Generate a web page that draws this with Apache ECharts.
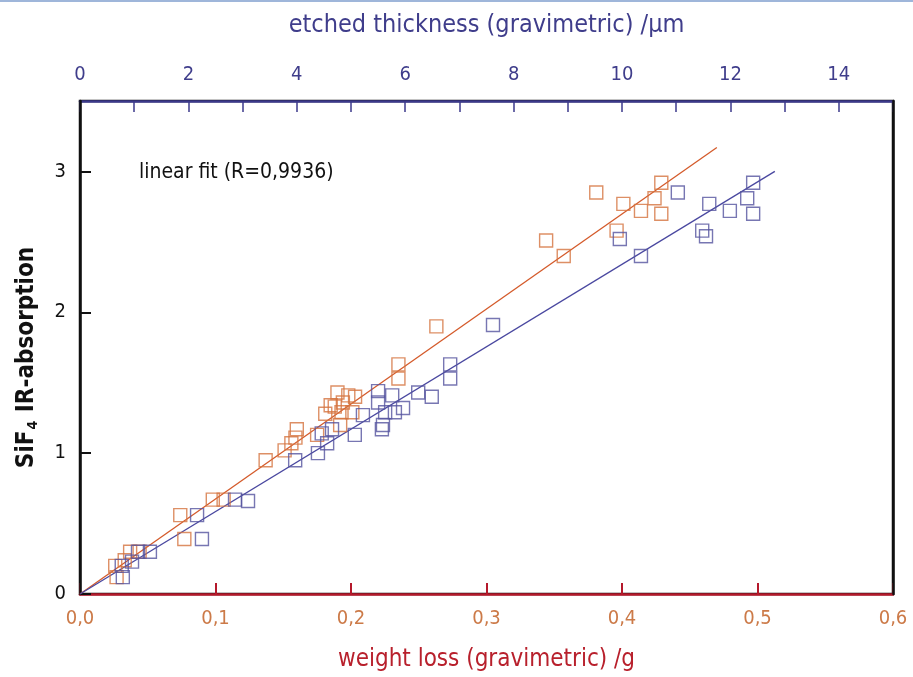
<!DOCTYPE html>
<html>
<head>
<meta charset="utf-8">
<title>SiF4 IR-absorption vs weight loss</title>
<script src="https://cdn.jsdelivr.net/npm/echarts@6/dist/echarts.min.js"></script>
<style>
    html, body { margin: 0; padding: 0; background: #fff; }
    #chart { width: 913px; height: 677px; }
</style>
</head>
<body>
<div id="chart"></div>
<script>
// weight loss (g) against SiF4 absorption - orange squares, bottom axis
var weightLoss = [0.026, 0.027, 0.033, 0.037, 0.044, 0.074, 0.077, 0.098, 0.106,
    0.137, 0.151, 0.156, 0.160, 0.159, 0.175, 0.181, 0.185, 0.190, 0.194, 0.198,
    0.203, 0.193, 0.201, 0.192, 0.188, 0.235, 0.235, 0.263, 0.344, 0.357, 0.381,
    0.396, 0.401, 0.414, 0.424, 0.429, 0.429];
var absorptionW = [0.20, 0.12, 0.24, 0.30, 0.30, 0.56, 0.39, 0.67, 0.67,
    0.95, 1.02, 1.07, 1.17, 1.11, 1.13, 1.28, 1.34, 1.43, 1.36, 1.41,
    1.40, 1.29, 1.29, 1.20, 1.33, 1.63, 1.53, 1.90, 2.51, 2.40, 2.85,
    2.58, 2.77, 2.72, 2.81, 2.92, 2.70];

// etched thickness (um) against SiF4 absorption - blue squares, top axis
var thickness = [0.77, 0.79, 0.96, 1.07, 1.29, 2.16, 2.25, 2.86, 3.10,
    3.97, 4.39, 4.56, 4.65, 4.46, 5.07, 5.22, 5.50, 5.50, 5.57, 5.63, 5.81,
    5.76, 5.96, 6.24, 6.49, 5.59, 6.83, 6.83, 7.62, 9.96, 10.35, 11.03,
    11.48, 11.55, 11.61, 11.99, 12.31, 12.42, 12.42];
var absorptionT = [0.20, 0.12, 0.23, 0.30, 0.30, 0.56, 0.39, 0.67, 0.66,
    0.95, 1.00, 1.07, 1.17, 1.14, 1.13, 1.27, 1.44, 1.36, 1.17, 1.29, 1.29,
    1.41, 1.32, 1.43, 1.40, 1.20, 1.63, 1.53, 1.91, 2.52, 2.40, 2.85,
    2.58, 2.54, 2.77, 2.72, 2.81, 2.92, 2.70];

// linear fits through the origin
var fitWeightX = [0, 0.47];
var fitWeightY = [0, 3.17];
var fitThickX = [0, 12.82];
var fitThickY = [0, 3.0];

var fontName = '"Liberation Sans Narrow", "DejaVu Sans Condensed", "Roboto", sans-serif';

var pairs = function (xs, ys) {
    var out = [];
    for (var i = 0; i < xs.length; i++) {
        out.push([xs[i], ys[i]]);
    }
    return out;
};

var myChart = echarts.init(document.getElementById('chart'));

var option = {
    backgroundColor: '#fff',
    animation: false,
    textStyle: { fontFamily: fontName },
    grid: {
        left: 80,
        right: 20,
        top: 101,
        bottom: 83,
        show: true,
        borderColor: '#111',
        borderWidth: 2.5,
        containLabel: false,
        outerBoundsMode: 'none'
    },
    graphic: [
        {
            type: 'rect',
            shape: { x: 0, y: 0, width: 913, height: 2 },
            style: { fill: '#9fb6da' }
        },
        {
            type: 'text',
            left: 139,
            top: 162,
            style: {
                text: 'linear fit (R=0,9936)',
                font: '21px ' + fontName,
                fill: '#111'
            }
        }
    ],
    xAxis: [
        {
            type: 'value',
            position: 'bottom',
            min: 0,
            max: 0.6,
            interval: 0.1,
            name: 'weight loss (gravimetric) /g',
            nameLocation: 'middle',
            nameGap: 54,
            nameMoveOverlap: false,
            nameTextStyle: { color: '#b8202c', fontSize: 24, fontFamily: fontName },
            axisLine: { onZero: false, lineStyle: { color: '#b5192b', width: 2.5 } },
            axisTick: { inside: true, length: 11, lineStyle: { color: '#b5192b', width: 2 } },
            axisLabel: {
                color: '#cc7a48',
                fontSize: 20,
                margin: 15,
                fontFamily: fontName,
                formatter: function (v) { return v.toFixed(1).replace('.', ','); }
            },
            splitLine: { show: false }
        },
        {
            type: 'value',
            position: 'top',
            min: 0,
            max: 15,
            interval: 1,
            name: 'etched thickness (gravimetric) /µm',
            nameLocation: 'middle',
            nameGap: 63,
            nameMoveOverlap: false,
            nameTextStyle: { color: '#3f3d8b', fontSize: 25, fontFamily: fontName },
            axisLine: { onZero: false, lineStyle: { color: '#3c3a8c', width: 2.5 } },
            axisTick: { inside: true, length: 11, lineStyle: { color: '#3c3a8c', width: 1.5 } },
            axisLabel: {
                color: '#3f3d8b',
                fontSize: 20,
                margin: 16,
                fontFamily: fontName,
                formatter: function (v) { return v % 2 === 0 ? String(v) : ''; }
            },
            splitLine: { show: false }
        }
    ],
    yAxis: [
        {
            type: 'value',
            position: 'left',
            min: 0,
            max: 3.5,
            interval: 1,
            z: 1,
            name: '{a|SiF}{b|4}{a| IR-absorption}',
            nameLocation: 'middle',
            nameGap: 40,
            nameMoveOverlap: false,
            nameTextStyle: {
                padding: [0, 20, 0, 0],
                rich: {
                    a: { fontSize: 24, fontWeight: 'bold', color: '#111', fontFamily: fontName },
                    b: { fontSize: 14, fontWeight: 'bold', color: '#111', fontFamily: fontName, verticalAlign: 'bottom', padding: [12, 1, 0, 1] }
                }
            },
            axisLine: { onZero: false, lineStyle: { color: '#111', width: 2.5 } },
            axisTick: { inside: true, length: 11, lineStyle: { color: '#111', width: 2 } },
            axisLabel: {
                color: '#111',
                fontSize: 20,
                margin: 14,
                fontFamily: fontName,
                showMaxLabel: false,
                formatter: function (v) { return v % 1 === 0 ? String(v) : ''; }
            },
            splitLine: { show: false }
        },
        {
            type: 'value',
            position: 'right',
            min: 0,
            max: 3.5,
            z: 1,
            axisLine: { show: true, onZero: false, lineStyle: { color: '#111', width: 2.5 } },
            axisTick: { show: false },
            axisLabel: { show: false },
            splitLine: { show: false }
        }
    ],
    series: [
        {
            name: 'fit weight',
            type: 'line',
            xAxisIndex: 0,
            yAxisIndex: 0,
            data: pairs(fitWeightX, fitWeightY),
            symbol: 'none',
            lineStyle: { color: '#d45a2a', width: 1.3 },
            z: 2
        },
        {
            name: 'fit thickness',
            type: 'line',
            xAxisIndex: 1,
            yAxisIndex: 0,
            data: pairs(fitThickX, fitThickY),
            symbol: 'none',
            lineStyle: { color: '#4a48a0', width: 1.3 },
            z: 2
        },
        {
            name: 'weight loss',
            type: 'scatter',
            xAxisIndex: 0,
            yAxisIndex: 0,
            data: pairs(weightLoss, absorptionW),
            symbol: 'rect',
            symbolSize: 13,
            itemStyle: { color: 'rgba(0,0,0,0)', borderColor: '#d4733f', borderWidth: 1.4 },
            z: 3
        },
        {
            name: 'thickness',
            type: 'scatter',
            xAxisIndex: 1,
            yAxisIndex: 0,
            data: pairs(thickness, absorptionT),
            symbol: 'rect',
            symbolSize: 13,
            itemStyle: { color: 'rgba(0,0,0,0)', borderColor: '#55549f', borderWidth: 1.4 },
            z: 4
        }
    ]
};

myChart.setOption(option);
</script>
</body>
</html>
